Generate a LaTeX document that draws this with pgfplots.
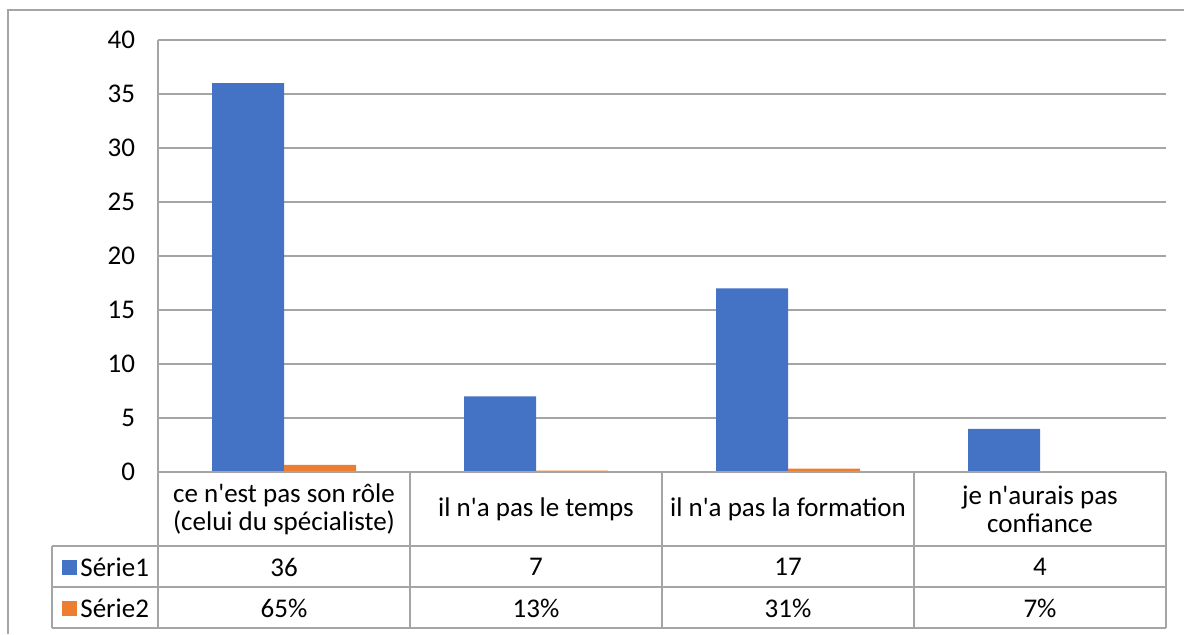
\documentclass[border=0pt]{standalone}
\usepackage{fontspec}
\setmainfont{Carlito}[Ligatures=TeXOff]
\usepackage{pgfplots}
\pgfplotsset{compat=1.18}
\definecolor{serieA}{HTML}{4472C4}
\definecolor{serieB}{HTML}{ED7D31}
\definecolor{gridgray}{HTML}{A5A5A5}
\newcommand{\xlfont}{\fontsize{13.5}{14}\selectfont}

\begin{document}
\begin{tikzpicture}
  % picture frame in reference pixels (1 px = 0.5 pt)
  \begin{scope}[x=0.5pt, y=-0.5pt]
    \useasboundingbox (0,0) rectangle (1184,634);
    \draw[gridgray, line width=0.75pt] (8,634) -- (8,10) -- (1184,10);
  \end{scope}

  \begin{axis}[
      at={(79pt,-236pt)}, anchor=south west,
      scale only axis, width=504pt, height=216pt,
      xmin=-0.5, xmax=3.5, ymin=0, ymax=40,
      xtick=\empty,
      ytick={0,5,...,40},
      ymajorgrids,
      major grid style={gridgray, line width=0.75pt},
      separate axis lines,
      axis x line*=bottom, axis y line*=left,
      axis line style={-, draw=gridgray, line width=0.75pt},
      tick style={draw=none},
      yticklabel style={font=\xlfont, xshift=-8pt},
      /pgf/number format/assume math mode=true,
      ybar=0pt, bar width=36pt,
      enlargelimits=false,
    ]
    \addplot[fill=serieA, draw=none] coordinates {(0,36) (1,7) (2,17) (3,4)};
    \addplot[fill=serieB, draw=none] coordinates {(0,0.65) (1,0.13) (2,0.31) (3,0.07)};
  \end{axis}

  % data table under the axis
  \begin{scope}[x=0.5pt, y=-0.5pt, font=\xlfont]
    \draw[gridgray, line width=0.75pt]
      (158,472) -- (1166,472)
      (52,546) -- (1166,546)
      (52,587) -- (1166,587)
      (52,628) -- (1166,628)
      (52,546) -- (52,628)
      (158,472) -- (158,628)
      (410,472) -- (410,628)
      (662,472) -- (662,628)
      (914,472) -- (914,628)
      (1166,472) -- (1166,628);
    \node[align=center] at (284,509) {ce n'est pas son rôle\\(celui du spécialiste)};
    \node at (536,509) {il n'a pas le temps};
    \node at (788,509) {il n'a pas la formation};
    \node[align=center] at (1040,509) {je n'aurais pas\\confiance};
    \fill[serieA] (62,560) rectangle (77,575);
    \fill[serieB] (62,601) rectangle (77,616);
    \node[anchor=west, inner sep=0pt] at (80,567) {Série1};
    \node[anchor=west, inner sep=0pt] at (80,608) {Série2};
    \node at (284,567) {36};
    \node at (536,567) {7};
    \node at (788,567) {17};
    \node at (1040,567) {4};
    \node at (284,608) {65\%};
    \node at (536,608) {13\%};
    \node at (788,608) {31\%};
    \node at (1040,608) {7\%};
  \end{scope}
\end{tikzpicture}
\end{document}
